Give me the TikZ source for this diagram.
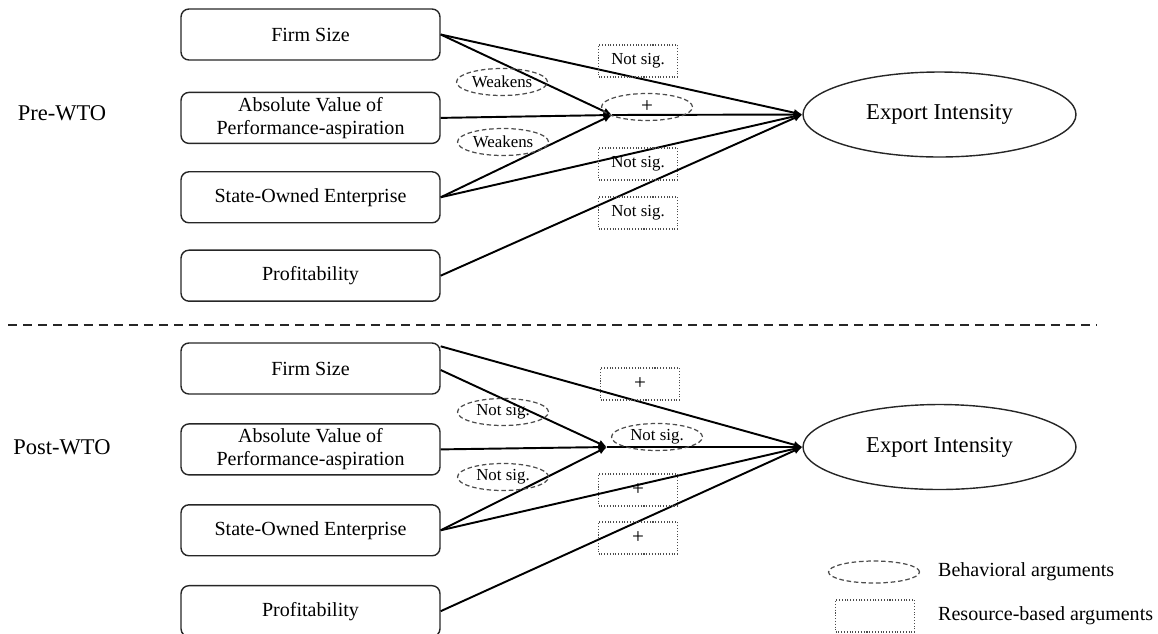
\documentclass[tikz,border=0pt]{standalone}
\usepackage{fontspec}
\setmainfont{Liberation Serif}
\usetikzlibrary{arrows.meta,positioning,calc,shapes.geometric}
\tikzset{
  varbox/.style={rectangle,rounded corners=4.5pt,draw=black!85,line width=0.8pt,align=center,minimum width=5.18cm,minimum height=1.02cm,inner sep=1pt,font=\fontsize{11.4}{13}\selectfont},
  outcome/.style={ellipse,draw=black!85,line width=0.8pt,minimum width=5.46cm,minimum height=1.7cm,inner sep=0pt,font=\fontsize{12.9}{14}\selectfont},
  behav/.style={ellipse,draw=black!70,dash pattern=on 2.6pt off 1.6pt,line width=0.7pt,minimum width=1.82cm,minimum height=0.54cm,inner sep=0pt,font=\fontsize{9.6}{10}\selectfont},
  resbox/.style={rectangle,draw=black!70,densely dotted,line width=0.6pt,minimum width=1.58cm,minimum height=0.64cm,inner sep=0pt,font=\fontsize{9.6}{10}\selectfont},
  plus/.style={font=\fontsize{12}{12}\selectfont},
  arrow/.style={-{Latex[length=1.7mm,width=1.5mm]},line width=1.1pt,draw=black},
  period/.style={font=\fontsize{12.8}{14}\selectfont},
  legendtext/.style={anchor=west,font=\fontsize{11.4}{13}\selectfont}
}

\begin{document}
\begin{tikzpicture}[x=0.02cm,y=-0.02cm,node distance=0.57cm]
  \useasboundingbox (0,0) rectangle (1158,633);

  % pre-WTO
  \node[period] (pre) at (62,113) {Pre-WTO};
  \node[varbox] (fs1) at (310.5,34.5) {Firm Size};
  \node[varbox, below=0.62cm of fs1] (ab1) {Absolute Value of\\Performance-aspiration};
  \node[varbox, below=0.54cm of ab1] (soe1) {State-Owned Enterprise};
  \node[varbox, below=0.52cm of soe1] (pr1) {Profitability};
  \node[outcome] (ei1) at (939.5,114.5) {Export Intensity};
  \coordinate (mid1) at (612,115);

  \draw[arrow] (fs1.east) -- (mid1);
  \draw[arrow] (soe1.east) -- (mid1);
  \draw[arrow] (ab1.east) -- (mid1);
  \draw[arrow] (mid1) -- (ei1.west);
  \draw[arrow] (fs1.east) -- (ei1.west);
  \draw[arrow] (soe1.east) -- (ei1.west);
  \draw[arrow] (pr1.east) -- (ei1.west);

  \node[behav] (w1) at (502,82) {Weakens};
  \node[behav] (w2) at (503,142) {Weakens};
  \node[behav, plus] (pl1) at (647,107) {+};
  \node[resbox] (ns1) at (638,61) {Not sig.};
  \node[resbox] (ns2) at (638,164) {Not sig.};
  \node[resbox] (ns3) at (638,213) {Not sig.};

  % separator
  \coordinate (sepl) at (8,325);
  \coordinate (sepr) at (1097,325);
  \draw[line width=1.4pt,black!85,dash pattern=on 5.2pt off 3.4pt] (sepl) -- (sepr);

  % post-WTO
  \node[period] (post) at (62,447) {Post-WTO};
  \node[varbox] (fs2) at (310.5,368.5) {Firm Size};
  \node[varbox, below=of fs2] (ab2) {Absolute Value of\\Performance-aspiration};
  \node[varbox, below=of ab2] (soe2) {State-Owned Enterprise};
  \node[varbox, below=of soe2] (pr2) {Profitability};
  \node[outcome] (ei2) at (939.5,447) {Export Intensity};
  \coordinate (mid2) at (607,447);

  \draw[arrow] ($(fs2.east)+(0,1.5)$) -- (mid2);
  \draw[arrow] (soe2.east) -- (mid2);
  \draw[arrow] (ab2.east) -- (mid2);
  \draw[arrow] (mid2) -- (ei2.west);
  \draw[arrow] ($(fs2.north east)+(0,4)$) -- (ei2.west);
  \draw[arrow] (soe2.east) -- (ei2.west);
  \draw[arrow] (pr2.east) -- (ei2.west);

  \node[behav] (n1) at (503,412) {Not sig.};
  \node[behav] (n2) at (503,477) {Not sig.};
  \node[behav] (n3) at (657,437) {Not sig.};
  \node[resbox, plus] (p1) at (640,384) {+};
  \node[resbox, plus] (p2) at (638,490) {+};
  \node[resbox, plus] (p3) at (638,538) {+};

  % legend
  \node[behav, minimum height=0.44cm] (lgb) at (874,572) {};
  \node[legendtext] (lgbt) at (932,572) {Behavioral arguments};
  \node[resbox] (lgr) at (875,616) {};
  \node[legendtext] (lgrt) at (932,616) {Resource-based arguments};
\end{tikzpicture}
\end{document}
